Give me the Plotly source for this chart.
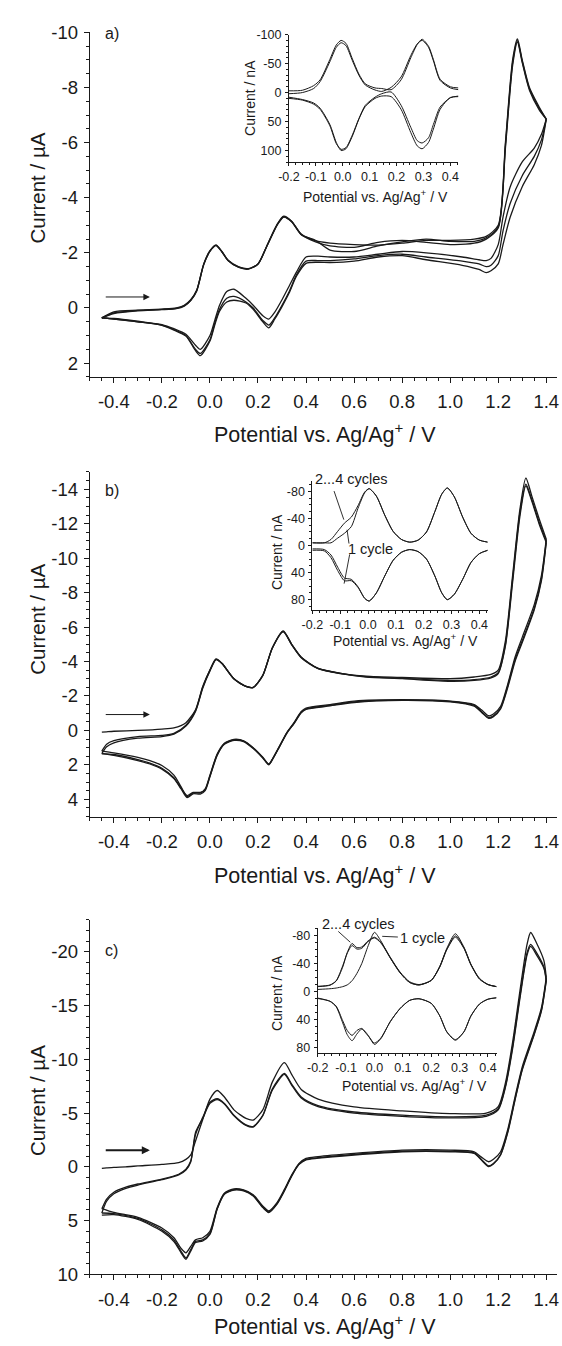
import plotly.graph_objects as go

W, H = 562, 1346

# ---------------- Panel a (main) ----------------
E_a_fwd = [-0.45, -0.40, -0.30, -0.20, -0.14, -0.107, -0.08, -0.055, -0.026, 0.0, 0.025, 0.05, 0.076, 0.12, 0.16, 0.20,
           0.237, 0.28, 0.307, 0.34, 0.38, 0.44, 0.50, 0.60, 0.70, 0.80, 0.90, 1.00, 1.10, 1.15, 1.20, 1.23, 1.26,
           1.28, 1.30, 1.33, 1.37, 1.40]
I_a_fwd_c1 = [0.36, 0.14, 0.08, 0.04, 0.0, -0.1, -0.3, -0.65, -1.6, -2.08, -2.29, -2.05, -1.73, -1.49, -1.43, -1.6,
              -2.26, -3.04, -3.33, -3.15, -2.68, -2.44, -2.35, -2.30, -2.28, -2.35, -2.45, -2.45, -2.50, -2.60, -3.00,
              -6.0, -9.0, -9.76, -9.0, -8.0, -7.3, -6.85]
I_a_fwd_c2 = [0.36, 0.18, 0.09, 0.05, 0.01, -0.08, -0.28, -0.63, -1.58, -2.06, -2.27, -2.04, -1.72, -1.48, -1.42, -1.6,
              -2.25, -3.02, -3.31, -3.14, -2.67, -2.40, -2.25, -2.20, -2.38, -2.45, -2.38, -2.30, -2.35, -2.50, -2.90,
              -5.9, -8.9, -9.70, -8.95, -7.95, -7.25, -6.85]
I_a_fwd_c3 = [0.36, 0.20, 0.10, 0.06, 0.02, -0.07, -0.27, -0.62, -1.57, -2.05, -2.26, -2.03, -1.71, -1.47, -1.41, -1.59,
              -2.24, -3.01, -3.30, -3.13, -2.66, -2.45, -2.10, -2.05, -2.25, -2.40, -2.50, -2.42, -2.42, -2.55, -2.95,
              -5.8, -8.8, -9.65, -8.9, -7.9, -7.2, -6.85]
E_a_rev = [1.40, 1.38, 1.35, 1.30, 1.25, 1.22, 1.20, 1.17, 1.15, 1.12, 1.05, 0.90, 0.80, 0.70, 0.60, 0.50, 0.45, 0.40,
           0.36, 0.33, 0.30, 0.27, 0.245, 0.22, 0.18, 0.15, 0.10, 0.07, 0.04, 0.02, 0.0, -0.04, -0.06, -0.10, -0.15,
           -0.20, -0.30, -0.40, -0.45]
I_a_rev_c1 = [-6.85, -6.3, -5.8, -5.3, -4.4, -3.3, -2.3, -1.8, -1.72, -1.75, -1.85, -2.0, -2.05, -1.95, -1.85, -1.85,
              -1.88, -1.85, -1.3, -0.8, -0.3, 0.15, 0.40, 0.28, -0.1, -0.35, -0.68, -0.6, -0.1, 0.45, 1.0, 1.5, 1.35,
              0.95, 0.75, 0.6, 0.48, 0.38, 0.36]
I_a_rev_c2 = [-6.85, -6.1, -5.5, -4.8, -3.8, -2.8, -1.9, -1.55, -1.5, -1.6, -1.7, -1.85, -1.95, -1.9, -1.78, -1.72,
              -1.72, -1.7, -1.2, -0.6, -0.1, 0.35, 0.62, 0.45, 0.0, -0.22, -0.42, -0.35, 0.05, 0.55, 1.15, 1.65, 1.5,
              1.0, 0.78, 0.62, 0.5, 0.4, 0.36]
I_a_rev_c3 = [-6.85, -5.9, -5.2, -4.4, -3.3, -2.3, -1.6, -1.35, -1.28, -1.4, -1.55, -1.75, -1.9, -1.85, -1.7, -1.65,
              -1.66, -1.62, -1.15, -0.55, -0.05, 0.4, 0.72, 0.5, 0.05, -0.18, -0.28, -0.22, 0.12, 0.62, 1.2, 1.73,
              1.55, 1.02, 0.8, 0.63, 0.5, 0.4, 0.36]

# ---------------- Panel b (main) ----------------
E_b_fwd = [-0.45, -0.43, -0.40, -0.30, -0.20, -0.15, -0.10, -0.06, -0.03, 0.0, 0.025, 0.05, 0.10, 0.15, 0.18, 0.22,
           0.26, 0.305, 0.34, 0.38, 0.45, 0.55, 0.65, 0.80, 1.00, 1.10, 1.17, 1.20, 1.23, 1.26, 1.29, 1.315, 1.34,
           1.37, 1.40]
I_b_fwd_c1 = [0.1, 0.08, 0.05, 0.0, -0.08, -0.15, -0.45, -1.2, -2.55, -3.5, -4.15, -3.9, -3.0, -2.55, -2.5, -3.2,
              -4.8, -5.78, -5.0, -4.25, -3.6, -3.3, -3.15, -3.07, -3.0, -3.1, -3.25, -3.5, -5.2, -9.0, -12.8, -14.65,
              -13.6, -12.3, -11.1]
I_b_fwd_c2 = [1.2, 0.8, 0.6, 0.36, 0.29, 0.17, -0.3, -1.15, -2.5, -3.5, -4.12, -3.88, -3.0, -2.55, -2.5, -3.2, -4.8,
              -5.75, -5.0, -4.25, -3.6, -3.3, -3.12, -3.02, -2.9, -2.95, -3.1, -3.35, -5.0, -8.8, -12.6, -14.3, -13.4,
              -12.1, -11.0]
I_b_fwd_c3 = [1.35, 0.95, 0.72, 0.45, 0.36, 0.22, -0.25, -1.1, -2.45, -3.45, -4.1, -3.88, -2.98, -2.55, -2.48, -3.18,
              -4.78, -5.72, -4.98, -4.22, -3.58, -3.28, -3.1, -3.0, -2.85, -2.9, -3.05, -3.3, -4.9, -8.6, -12.4, -14.2,
              -13.3, -12.0, -10.9]
E_b_rev = [1.40, 1.38, 1.35, 1.30, 1.27, 1.24, 1.21, 1.18, 1.16, 1.13, 1.10, 1.00, 0.80, 0.60, 0.50, 0.40, 0.38, 0.35,
           0.32, 0.29, 0.26, 0.245, 0.22, 0.18, 0.14, 0.10, 0.06, 0.03, 0.0, -0.02, -0.04, -0.07, -0.095, -0.12, -0.15,
           -0.20, -0.25, -0.30, -0.40, -0.45]
I_b_rev_c1 = [-11.1, -9.0, -7.3, -5.4, -4.25, -2.7, -1.4, -0.95, -0.85, -1.2, -1.5, -1.7, -1.78, -1.7, -1.5, -1.3,
              -1.1, -0.45, 0.13, 0.9, 1.66, 1.95, 1.56, 1.0, 0.6, 0.52, 0.74, 1.37, 2.6, 3.4, 3.63, 3.63, 3.85, 3.28,
              2.6, 2.04, 1.75, 1.56, 1.3, 1.2]
I_b_rev_c2 = [-11.0, -8.8, -7.1, -5.2, -4.1, -2.6, -1.3, -0.85, -0.75, -1.1, -1.45, -1.68, -1.76, -1.65, -1.45, -1.25,
              -1.05, -0.42, 0.15, 0.92, 1.68, 1.97, 1.58, 1.02, 0.62, 0.55, 0.78, 1.42, 2.65, 3.45, 3.6, 3.6, 3.78,
              3.35, 2.75, 2.2, 1.9, 1.7, 1.4, 1.35]
I_b_rev_c3 = [-10.9, -8.7, -7.0, -5.1, -4.0, -2.5, -1.25, -0.8, -0.7, -1.05, -1.4, -1.65, -1.74, -1.62, -1.42, -1.22,
              -1.02, -0.4, 0.17, 0.94, 1.7, 2.0, 1.6, 1.05, 0.65, 0.58, 0.8, 1.45, 2.7, 3.5, 3.7, 3.68, 3.9, 3.4, 2.8,
              2.25, 1.95, 1.75, 1.45, 1.35]

# ---------------- Panel c (main) ----------------
E_c_fwd = [-0.45, -0.43, -0.40, -0.35, -0.30, -0.20, -0.13, -0.10, -0.08, -0.06, -0.03, 0.0, 0.03, 0.06, 0.10, 0.15,
           0.18, 0.22, 0.26, 0.31, 0.34, 0.38, 0.45, 0.60, 0.80, 1.00, 1.15, 1.20, 1.23, 1.26, 1.29, 1.32, 1.335,
           1.36, 1.39, 1.40]
I_c_fwd_c1 = [0.14, 0.1, 0.05, 0.0, -0.08, -0.23, -0.38, -0.69, -1.1, -2.4, -4.4, -6.3, -7.1, -6.5, -5.3, -4.5,
              -4.35, -5.3, -7.9, -9.7, -8.6, -7.2, -6.3, -5.57, -5.2, -4.95, -5.0, -5.6, -7.8, -11.6, -16.3, -20.7,
              -21.8, -20.8, -19.2, -17.6]
I_c_fwd_c2 = [3.9, 3.0, 2.36, 1.9, 1.6, 1.14, 0.69, 0.23, -0.53, -3.0, -4.6, -6.0, -6.33, -5.9, -4.8, -3.9, -3.75,
              -4.8, -7.25, -8.7, -7.7, -6.5, -5.7, -5.1, -4.8, -4.65, -4.8, -5.4, -7.5, -11.2, -15.8, -19.9, -20.7,
              -19.9, -18.6, -17.4]
I_c_fwd_c3 = [4.3, 3.2, 2.5, 2.0, 1.7, 1.2, 0.75, 0.3, -0.45, -3.2, -4.5, -5.9, -6.25, -5.85, -4.75, -3.85, -3.7,
              -4.75, -7.15, -8.6, -7.6, -6.4, -5.6, -5.0, -4.7, -4.55, -4.7, -5.3, -7.4, -11.0, -15.6, -19.7, -20.5,
              -19.7, -18.5, -17.3]
E_c_rev = [1.40, 1.38, 1.35, 1.30, 1.27, 1.24, 1.21, 1.18, 1.16, 1.13, 1.10, 1.00, 0.80, 0.60, 0.45, 0.40, 0.37, 0.34,
           0.31, 0.28, 0.245, 0.22, 0.18, 0.14, 0.10, 0.06, 0.03, 0.0, -0.03, -0.06, -0.08, -0.10, -0.12, -0.15,
           -0.20, -0.30, -0.40, -0.45]
I_c_rev_c1 = [-17.6, -14.8, -12.6, -9.3, -6.5, -3.5, -1.4, -0.7, -0.47, -0.9, -1.4, -1.55, -1.55, -1.25, -0.95,
              -0.78, -0.3, 0.78, 2.1, 3.3, 4.1, 3.65, 2.6, 2.15, 2.05, 2.45, 3.8, 6.0, 6.6, 6.8, 7.4, 8.0, 7.6, 6.6,
              5.7, 4.7, 4.25, 3.9]
I_c_rev_c2 = [-17.4, -14.6, -12.4, -9.1, -6.3, -3.3, -1.15, -0.3, -0.08, -0.69, -1.3, -1.45, -1.45, -1.15, -0.84,
              -0.69, -0.23, 0.84, 2.2, 3.4, 4.2, 3.74, 2.67, 2.2, 2.12, 2.5, 3.9, 6.2, 6.8, 6.94, 7.7, 8.47, 7.86, 6.8,
              5.87, 4.8, 4.35, 4.3]
I_c_rev_c3 = [-17.3, -14.5, -12.3, -9.0, -6.2, -3.2, -1.1, -0.25, -0.02, -0.62, -1.25, -1.4, -1.4, -1.1, -0.8, -0.65,
              -0.2, 0.88, 2.25, 3.45, 4.25, 3.8, 2.72, 2.25, 2.17, 2.55, 3.95, 6.3, 6.9, 7.05, 7.85, 8.6, 8.0, 6.95,
              6.0, 4.9, 4.45, 4.5]

# ---------------- Inset a (nA) ----------------
E_ia = [-0.2, -0.15, -0.108, -0.084, -0.048, -0.024, -0.006, 0.012, 0.036, 0.06, 0.084, 0.12, 0.145, 0.18, 0.217,
        0.253, 0.277, 0.295, 0.319, 0.337, 0.362, 0.4, 0.43]
I_ia_up1 = [2, 0, -7, -19, -53, -78, -86, -81, -55, -30, -13, -4.5, -2, -9, -27, -64, -84, -90, -78, -55, -21, -8, -5]
I_ia_up2 = [-3, -4, -12, -22, -57, -82, -90, -85, -58, -32, -15, -8, -7, -5, -22, -60, -83, -92, -80, -57, -23, -10, -8]
I_ia_lo1 = [8, 12, 18, 27, 55, 86, 100, 97, 75, 46, 24, 10, 6, 7, 29, 69, 92, 97, 86, 63, 29, 8.5, 7]
I_ia_lo2 = [10, 13, 20, 29, 57, 88, 98, 95, 73, 45, 22, 8, 2, -1, 22, 60, 83, 87, 78, 55, 25, 9, 6]

# ---------------- Inset b (nA) ----------------
E_ib = [-0.2, -0.157, -0.133, -0.109, -0.085, -0.06, -0.036, -0.012, 0.004, 0.03, 0.06, 0.09, 0.12, 0.15, 0.18, 0.21,
        0.24, 0.265, 0.285, 0.31, 0.34, 0.37, 0.4, 0.43]
I_ib_up_24 = [-4, -4, -9, -21, -33, -42, -59, -79, -84, -73, -45, -21, -9, -5, -8, -20, -50, -76, -85, -72, -42, -18,
              -8, -5]
I_ib_up_1 = [-4, -4, -4, -11, -18, -28, -55, -78, -84, -73, -45, -21, -9, -5, -8, -20, -50, -76, -85, -72, -42, -18,
             -8, -5]
I_ib_lo_24 = [7, 8, 18, 37, 52, 52, 62, 78, 82, 70, 45, 22, 10, 6, 9, 20, 45, 70, 80, 72, 50, 25, 12, 7]
I_ib_lo_1 = [5, 6, 14, 32, 48, 50, 61, 78, 82, 70, 45, 22, 10, 6, 9, 20, 45, 70, 80, 72, 50, 25, 12, 7]

# ---------------- Inset c (nA) ----------------
E_ic = [-0.2, -0.157, -0.135, -0.112, -0.096, -0.079, -0.062, -0.045, -0.022, 0.0, 0.022, 0.056, 0.09, 0.124, 0.157,
        0.2, 0.23, 0.255, 0.285, 0.315, 0.34, 0.37, 0.4, 0.43]
I_ic_up_2 = [-7.5, -9.4, -15.5, -37, -55, -66, -61, -62, -72, -77, -70, -48, -27, -13, -9.4, -16, -35, -60, -78, -62,
             -38, -18, -10, -7]
I_ic_up_3 = [-7, -9, -15, -35, -56, -69, -63, -64, -73, -78, -71, -49, -28, -14, -10, -16, -36, -61, -80, -63, -39,
             -19, -10, -7]
I_ic_up_1 = [-3, -4, -5, -7, -9.5, -15.5, -26, -40, -66, -85, -73, -48, -27, -13, -9.4, -16, -36, -62, -83, -64, -39,
             -18, -10, -7]
I_ic_lo_24 = [9.4, 14, 22, 45, 62, 70.6, 61, 54, 64, 74, 67, 43, 24.5, 12.7, 10.4, 17, 35, 58, 70, 58, 35, 18, 11, 9]
I_ic_lo_1 = [10, 14, 21, 42, 56, 63, 56, 53, 63, 76, 68, 43, 24.5, 12.7, 10.4, 17, 35, 58, 69, 58, 35, 18, 11, 9]

# ---------------- Tick labels ----------------
X_MAIN_TICKS = [-0.4, -0.2, 0.0, 0.2, 0.4, 0.6, 0.8, 1.0, 1.2, 1.4]
Y_A_TICKS = [-10, -8, -6, -4, -2, 0, 2]
Y_B_TICKS = [-14, -12, -10, -8, -6, -4, -2, 0, 2, 4]
Y_C_TICKS = [-20, -15, -10, -5, 0, 5, 10]
X_INSET_TICKS = [-0.2, -0.1, 0.0, 0.1, 0.2, 0.3, 0.4]
Y_IA_TICKS = [-100, -50, 0, 50, 100]
Y_IBC_TICKS = [-80, -40, 0, 40, 80]

FONT = "Liberation Sans, Arial, sans-serif"
INK = "#1a1a1a"


def px(xp):
    return xp / W


def py(yp):
    return 1 - yp / H


fig = go.Figure()


def add_line(E, I, ax, width=1.3):
    fig.add_trace(go.Scatter(x=E, y=I, mode="lines", xaxis="x" + ax, yaxis="y" + ax,
                             line=dict(color=INK, width=width, shape="spline", smoothing=0.7),
                             showlegend=False, hoverinfo="skip"))


for E, I in [(E_a_fwd, I_a_fwd_c1), (E_a_fwd, I_a_fwd_c2), (E_a_fwd, I_a_fwd_c3),
             (E_a_rev, I_a_rev_c1), (E_a_rev, I_a_rev_c2), (E_a_rev, I_a_rev_c3)]:
    add_line(E, I, "")
for E, I in [(E_b_fwd, I_b_fwd_c1), (E_b_fwd, I_b_fwd_c2), (E_b_fwd, I_b_fwd_c3),
             (E_b_rev, I_b_rev_c1), (E_b_rev, I_b_rev_c2), (E_b_rev, I_b_rev_c3)]:
    add_line(E, I, "2")
for E, I in [(E_c_fwd, I_c_fwd_c1), (E_c_fwd, I_c_fwd_c2), (E_c_fwd, I_c_fwd_c3),
             (E_c_rev, I_c_rev_c1), (E_c_rev, I_c_rev_c2), (E_c_rev, I_c_rev_c3)]:
    add_line(E, I, "3")
for I in [I_ia_up1, I_ia_up2, I_ia_lo1, I_ia_lo2]:
    add_line(E_ia, I, "4", 1.0)
for I in [I_ib_up_24, I_ib_up_1, I_ib_lo_24, I_ib_lo_1]:
    add_line(E_ib, I, "5", 1.0)
for I in [I_ic_up_2, I_ic_up_3, I_ic_up_1, I_ic_lo_24, I_ic_lo_1]:
    add_line(E_ic, I, "6", 1.0)


def fmt(v, nd):
    return f"{v:.{nd}f}"


def xaxis_main(anchor):
    return dict(domain=[px(80.7), px(559)], range=[-0.5, 1.445], anchor=anchor,
                tickmode="array", tickvals=X_MAIN_TICKS, ticktext=[fmt(v, 1) for v in X_MAIN_TICKS],
                showline=True, linecolor=INK, linewidth=1.3, ticks="outside", ticklen=5, tickwidth=1.2,
                tickcolor=INK, showgrid=False, zeroline=False, ticklabelstandoff=3,
                tickfont=dict(family=FONT, size=18.5, color=INK),
                minor=dict(tickmode="linear", tick0=0, dtick=0.05, ticks="outside", ticklen=3, tickwidth=1,
                           tickcolor=INK))


def yaxis_main(anchor, dom, rng, tv, mdt):
    return dict(domain=dom, range=rng, anchor=anchor, tickmode="array", tickvals=tv,
                ticktext=[str(v) for v in tv], showline=True, linecolor=INK, linewidth=1.3,
                ticks="outside", ticklen=5, tickwidth=1.2, tickcolor=INK, showgrid=False, zeroline=False,
                ticklabelstandoff=2, tickfont=dict(family=FONT, size=18.5, color=INK),
                minor=dict(tickmode="linear", tick0=0, dtick=mdt, ticks="outside", ticklen=3, tickwidth=1,
                           tickcolor=INK))


def xaxis_inset(anchor, xd):
    return dict(domain=xd, range=[-0.2, 0.43], anchor=anchor, tickmode="array", tickvals=X_INSET_TICKS,
                ticktext=[fmt(v, 1) for v in X_INSET_TICKS], showline=True, linecolor=INK, linewidth=1,
                ticks="outside", ticklen=3, tickwidth=1, tickcolor=INK, showgrid=False, zeroline=False,
                ticklabelstandoff=0, tickfont=dict(family=FONT, size=12.5, color=INK),
                minor=dict(tickmode="linear", tick0=0, dtick=0.025, ticks="outside", ticklen=2, tickwidth=0.8,
                           tickcolor=INK))


def yaxis_inset(anchor, yd, rng, tv):
    return dict(domain=yd, range=rng, anchor=anchor, tickmode="array", tickvals=tv,
                ticktext=[str(v) for v in tv], showline=True, linecolor=INK, linewidth=1,
                ticks="outside", ticklen=3, tickwidth=1, tickcolor=INK, showgrid=False, zeroline=False,
                ticklabelstandoff=1, tickfont=dict(family=FONT, size=12.5, color=INK),
                minor=dict(tickmode="linear", tick0=0, dtick=10, ticks="outside", ticklen=2, tickwidth=0.8,
                           tickcolor=INK))


annotations = []


def text(xp, yp, s, size, angle=0, xanchor="center"):
    annotations.append(dict(x=px(xp), y=py(yp), xref="paper", yref="paper", text=s, showarrow=False,
                            textangle=angle, xanchor=xanchor, yanchor="middle",
                            font=dict(family=FONT, size=size, color=INK)))


XT = "Potential vs. Ag/Ag<sup>+</sup> / V"
# main titles
for xy, ty in [(429, 180), (876.5, 618), (1335, 1107)]:
    text(321, xy, XT, 21.5)
    text(27, ty, "Current / \u00b5A", 20.5, angle=-90)
text(103, 23, "a)", 16)
text(103, 487, "b)", 16)
text(103, 954, "c)", 16)
# inset titles
text(373, 188, XT, 14)
text(244, 88, "Current / nA", 14, angle=-90)
text(404, 639, XT, 14)
text(273, 550, "Current / nA", 14, angle=-90)
text(413, 1091, XT, 14)
text(273, 998, "Current / nA", 14, angle=-90)
# inset cycle labels
text(349, 475, "2...4 cycles", 14.5)
text(368, 547, "1 cycle", 14.5)
text(356, 927, "2...4 cycles", 14.5)
text(396, 942, "1 cycle", 14.5, xanchor="left")

# scan direction arrows
for ax, yv, w, sz in [("", -0.4, 1.0, 1.3), ("2", -0.92, 1.0, 1.3), ("3", -1.54, 1.8, 0.9)]:
    annotations.append(dict(x=-0.25, y=yv, ax=-0.44, ay=yv, xref="x" + ax, yref="y" + ax,
                            axref="x" + ax, ayref="y" + ax, showarrow=True, arrowhead=2, arrowsize=sz,
                            arrowwidth=w, arrowcolor=INK, text=" ", font=dict(size=1)))

shapes = []
for (x0, y0, x1, y1) in [(330.7, 487.7, 340.7, 516.7), (346, 541, 344, 527), (346.7, 552, 341, 581.7),
                         (335, 935, 347.3, 946), (380, 940, 396, 940.7)]:
    shapes.append(dict(type="line", xref="paper", yref="paper", x0=px(x0), y0=py(y0), x1=px(x1), y1=py(y1),
                       line=dict(color=INK, width=0.9)))

fig.update_layout(
    width=W, height=H, margin=dict(l=0, r=0, t=0, b=0),
    paper_bgcolor="white", plot_bgcolor="rgba(0,0,0,0)", showlegend=False,
    xaxis=xaxis_main("y"),
    yaxis=yaxis_main("x", [py(371.7), py(21.7)], [2.5, -10], Y_A_TICKS, 0.5),
    xaxis2=xaxis_main("y2"),
    yaxis2=yaxis_main("x2", [py(818.3), py(468.3)], [5, -15], Y_B_TICKS, 0.5),
    xaxis3=xaxis_main("y3"),
    yaxis3=yaxis_main("x3", [py(1283.3), py(923)], [10, -23], Y_C_TICKS, 1),
    xaxis4=xaxis_inset("y4", [px(284.5), px(458)]),
    yaxis4=yaxis_inset("x4", [py(153.5), py(24)], [120, -100], Y_IA_TICKS),
    xaxis5=xaxis_inset("y5", [px(308.5), px(488)]),
    yaxis5=yaxis_inset("x5", [py(609), py(477)], [96, -96], Y_IBC_TICKS),
    xaxis6=xaxis_inset("y6", [px(314), px(497)]),
    yaxis6=yaxis_inset("x6", [py(1058.3), py(931.7)], [88, -91], Y_IBC_TICKS),
    annotations=annotations, shapes=shapes,
)

fig.write_html("out.html")
